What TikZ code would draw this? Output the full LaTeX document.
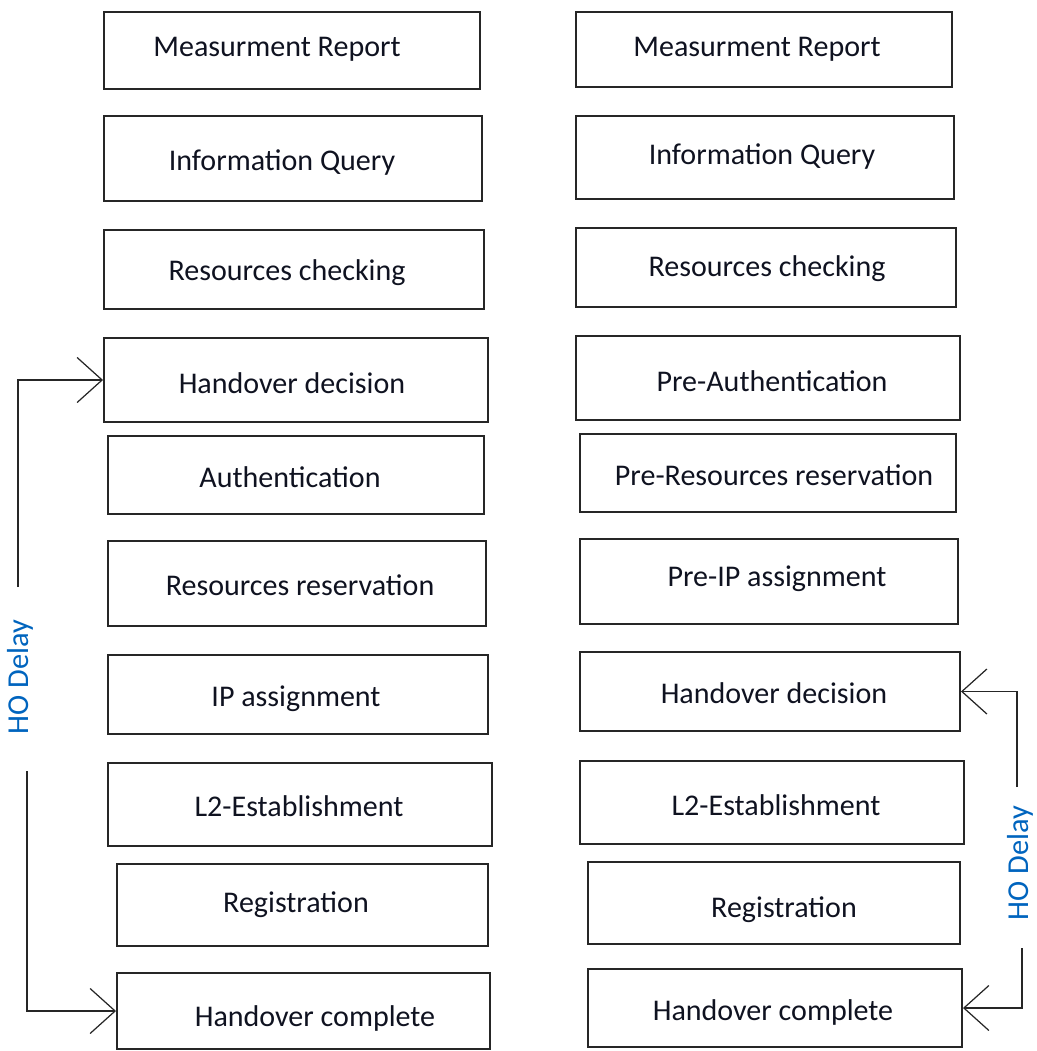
\documentclass[tikz,border=0pt]{standalone}
\usepackage{fontspec}
\setmainfont{Carlito}
\usetikzlibrary{fit,arrows.meta}
\definecolor{txtdark}{RGB}{15,18,32}
\definecolor{hoblue}{RGB}{0,100,190}
\begin{document}
\begin{tikzpicture}[x=0.02cm,y=-0.02cm,
  box/.style={draw=black!85,line width=1.1pt,inner sep=0pt},
  lbl/.style={text=txtdark,font=\fontsize{17.1}{19}\selectfont,inner sep=0pt,yshift=-0.06cm},
  delay/.style={text=hoblue,font=\fontsize{17.3}{19}\selectfont,rotate=90,inner sep=0pt},
  ho/.style={draw=black!85,line width=0.9pt,-{Straight Barb[length=0.5cm,width=0.9cm,line width=0.7pt]}}]
\useasboundingbox (0,0) rectangle (1037,1051);
% left column
\node[box,fit={(104,12) (480,89)}]    (L1) {};
\node[box,fit={(104,116) (482,201)}]  (L2) {};
\node[box,fit={(104,230) (484,309)}]  (L3) {};
\node[box,fit={(104,338) (488,422)}]  (L4) {};
\node[box,fit={(108,436) (484,514)}]  (L5) {};
\node[box,fit={(108,541) (486,626)}]  (L6) {};
\node[box,fit={(108,655) (488,734)}]  (L7) {};
\node[box,fit={(108,763) (492,846)}]  (L8) {};
\node[box,fit={(117,864) (488,946)}]  (L9) {};
\node[box,fit={(117,973) (490,1049)}] (L10) {};
\node[lbl] (tL1) at (277,46)   {Measurment Report};
\node[lbl] (tL2) at (282,160)  {Information Query};
\node[lbl] (tL3) at (287,270)  {Resources checking};
\node[lbl] (tL4) at (292,380)  {Handover decision};
\node[lbl] (tL5) at (290,474)  {Authentication};
\node[lbl] (tL6) at (300,582)  {Resources reservation};
\node[lbl] (tL7) at (296,696)  {IP assignment};
\node[lbl] (tL8) at (299,803)  {L2-Establishment};
\node[lbl] (tL9) at (296,902)  {Registration};
\node[lbl] (tL10) at (315,1015) {Handover complete};
% right column
\node[box,fit={(576,12) (952,87)}]    (R1) {};
\node[box,fit={(576,116) (954,199)}]  (R2) {};
\node[box,fit={(576,228) (956,307)}]  (R3) {};
\node[box,fit={(576,336) (960,420)}]  (R4) {};
\node[box,fit={(580,434) (956,512)}]  (R5) {};
\node[box,fit={(580,539) (958,624)}]  (R6) {};
\node[box,fit={(580,652) (960,731)}]  (R7) {};
\node[box,fit={(580,761) (964,844)}]  (R8) {};
\node[box,fit={(588,862) (960,944)}]  (R9) {};
\node[box,fit={(588,969) (962,1047)}] (R10) {};
\node[lbl] (tR1) at (757,46)   {Measurment Report};
\node[lbl] (tR2) at (762,154)  {Information Query};
\node[lbl] (tR3) at (767,266)  {Resources checking};
\node[lbl] (tR4) at (772,378)  {Pre-Authentication};
\node[lbl] (tR5) at (774,472)  {Pre-Resources reservation};
\node[lbl] (tR6) at (777,576)  {Pre-IP assignment};
\node[lbl] (tR7) at (774,690)  {Handover decision};
\node[lbl] (tR8) at (776,802)  {L2-Establishment};
\node[lbl] (tR9) at (784,907)  {Registration};
\node[lbl] (tR10) at (773,1009) {Handover complete};
% handover delay markers
\node[delay] (dL) at (20,677) {HO Delay};
\node[delay] (dR) at (1020,863) {HO Delay};
\coordinate (la) at (18,587);
\coordinate (lb) at (27,771);
\coordinate (ra) at (1017,787);
\coordinate (rb) at (1022,948);
\draw[ho] (la) |- (L4.west);
\draw[ho] (lb) |- (L10.west);
\draw[ho] (ra) |- (R7.east);
\draw[ho] (rb) |- (R10.east);
\end{tikzpicture}
\end{document}
